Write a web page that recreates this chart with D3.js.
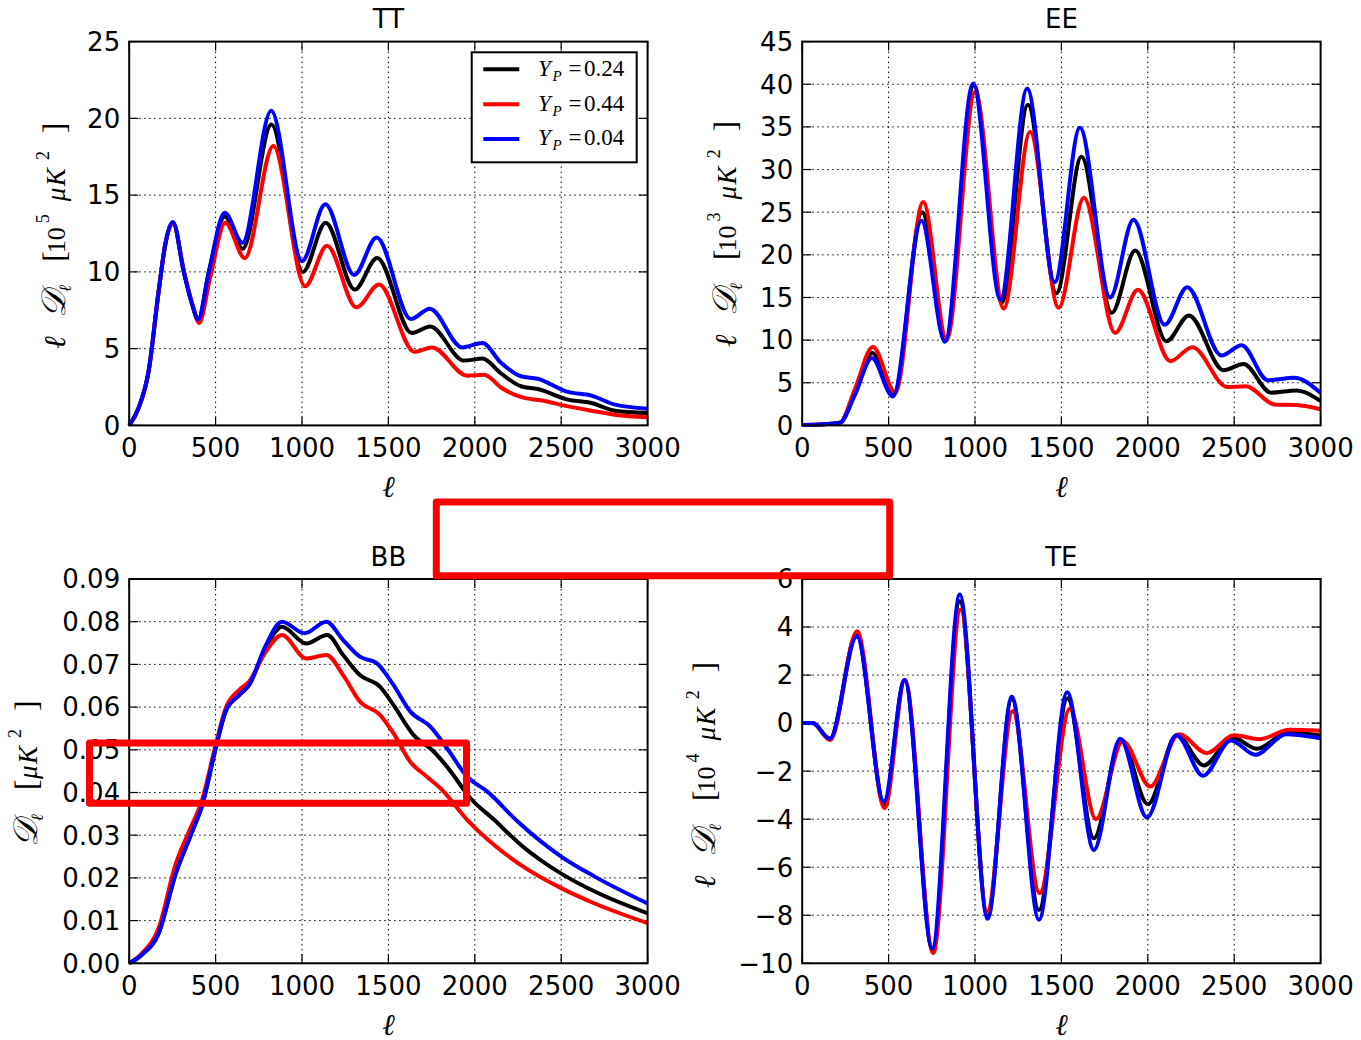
<!DOCTYPE html>
<html>
<head>
<meta charset="utf-8">
<script src="https://cdn.jsdelivr.net/npm/d3@7/dist/d3.min.js"></script>
<style>
  body { margin: 0; background: #fff; }
  text { fill: #000; }
</style>
</head>
<body>
<div id="plot"></div>
<script>
// values: [ell, value]
var ttK = [[0,0],[53,1.1],[112,3.5],[170,8.7],[209,11.8],[253,13.2],[316,10.0],[364,7.9],[399,6.9],[461,10.0],[553,13.6],[657,11.5],[823,19.6],[1005,10.0],[1137,13.2],[1305,8.85],[1435,10.9],[1635,6.02],[1742,6.45],[1937,4.22],[2044,4.35],[2150,3.4],[2267,2.55],[2364,2.37],[2539,1.68],[2675,1.46],[2811,0.96],[3000,0.81]];
var ttR = [[0,0],[53,1.1],[112,3.5],[170,8.7],[209,11.8],[253,13.2],[318,10.0],[368,7.8],[405,6.67],[468,9.6],[556,13.2],[669,10.9],[834,18.2],[1018,9.06],[1145,11.7],[1315,7.69],[1446,9.17],[1650,4.8],[1752,5.08],[1956,3.24],[2053,3.3],[2160,2.4],[2286,1.79],[2380,1.64],[2539,1.24],[2675,0.96],[2811,0.70],[3000,0.53]];
var ttB = [[0,0],[53,1.1],[112,3.5],[170,8.7],[209,11.8],[253,13.25],[316,10.0],[364,7.9],[399,6.9],[461,10.0],[553,13.85],[655,11.9],[822,20.5],[1000,10.7],[1135,14.4],[1302,9.8],[1432,12.24],[1630,6.93],[1739,7.6],[1927,5.08],[2044,5.37],[2150,4.1],[2267,3.2],[2364,3.04],[2539,2.18],[2675,1.94],[2811,1.35],[3000,1.09]];

var eeK = [[0,0.05],[100,0.1],[218,0.3],[306,4.0],[406,8.5],[530,3.6],[694,25.0],[830,9.9],[994,39.9],[1155,14.4],[1306,37.6],[1471,15.5],[1616,31.5],[1791,13.2],[1927,20.5],[2108,9.87],[2238,12.9],[2438,6.48],[2554,7.2],[2714,3.83],[2859,4.1],[3000,2.85]];
var eeR = [[0,0.05],[100,0.1],[218,0.3],[306,4.3],[409,9.2],[539,3.9],[700,26.2],[836,10.07],[1001,39.1],[1166,13.7],[1319,34.4],[1484,13.8],[1630,26.7],[1811,10.85],[1943,15.9],[2131,7.53],[2257,9.17],[2461,4.49],[2568,4.6],[2733,2.46],[2860,2.4],[3000,1.9]];
var eeB = [[0,0.05],[100,0.1],[218,0.3],[306,3.6],[403,7.9],[525,3.4],[690,24.0],[826,9.8],[989,40.1],[1147,14.75],[1302,39.5],[1461,16.8],[1607,34.9],[1782,15.0],[1917,24.1],[2098,11.8],[2228,16.2],[2426,8.2],[2543,9.4],[2694,5.3],[2846,5.58],[3000,3.8]];

var bbK = [[0,0],[73,0.002],[170,0.007],[267,0.0207],[364,0.0308],[422,0.037],[500,0.0503],[558,0.059],[636,0.0628],[694,0.0652],[791,0.074],[884,0.0788],[1024,0.0749],[1146,0.0769],[1238,0.0722],[1335,0.0675],[1451,0.0648],[1529,0.0605],[1645,0.0535],[1762,0.0496],[1840,0.046],[1976,0.0386],[2112,0.0336],[2267,0.0277],[2500,0.021],[2694,0.0168],[3000,0.0117]];
var bbR = [[0,0],[73,0.0023],[170,0.0082],[267,0.023],[345,0.0308],[422,0.0383],[500,0.0511],[558,0.0597],[636,0.064],[694,0.066],[791,0.073],[884,0.0769],[1024,0.0714],[1141,0.0722],[1238,0.0675],[1335,0.0613],[1451,0.0582],[1529,0.0539],[1626,0.0472],[1723,0.0437],[1801,0.041],[1956,0.0336],[2112,0.0277],[2267,0.023],[2500,0.0176],[2694,0.014],[3000,0.0094]];
var bbB = [[0,0],[73,0.002],[170,0.007],[267,0.0207],[364,0.0308],[422,0.037],[500,0.0503],[558,0.059],[636,0.0628],[694,0.0652],[791,0.0745],[884,0.080],[1015,0.0773],[1141,0.080],[1238,0.0757],[1335,0.0718],[1432,0.0703],[1529,0.0652],[1626,0.059],[1743,0.0554],[1840,0.0503],[1956,0.0437],[2073,0.0402],[2248,0.0332],[2500,0.025],[2694,0.0203],[3000,0.014]];

var teK = [[0,0],[60,0],[160,-0.65],[316,3.7],[475,-3.4],[593,1.8],[755,-9.45],[912,5.07],[1073,-8.05],[1213,1.0],[1370,-7.78],[1535,1.04],[1688,-4.79],[1845,-0.68],[2000,-3.38],[2168,-0.5],[2325,-1.76],[2490,-0.6],[2632,-1.07],[2810,-0.39],[3000,-0.51]];
var teR = [[0,0],[60,0],[162,-0.7],[318,3.82],[477,-3.54],[595,1.8],[758,-9.58],[917,4.72],[1070,-7.85],[1218,0.5],[1374,-7.08],[1549,0.6],[1700,-4.0],[1855,-0.75],[2015,-2.64],[2180,-0.46],[2341,-1.25],[2500,-0.51],[2646,-0.67],[2820,-0.28],[3000,-0.32]];
var teB = [[0,0],[60,0],[160,-0.65],[316,3.61],[473,-3.26],[593,1.8],[752,-9.38],[912,5.35],[1073,-8.15],[1213,1.11],[1370,-8.19],[1533,1.29],[1688,-5.28],[1840,-0.65],[1995,-3.93],[2166,-0.51],[2320,-2.19],[2481,-0.72],[2622,-1.32],[2801,-0.46],[3000,-0.63]];

var legendValues = ["0.24", "0.44", "0.04"];
var colors = ["#000000", "#ff0000", "#0000ff"];
var xTicks = [0, 500, 1000, 1500, 2000, 2500, 3000];
var ttTicks = [0, 5, 10, 15, 20, 25];
var eeTicks = [0, 5, 10, 15, 20, 25, 30, 35, 40, 45];
var bbTicks = [0, 0.01, 0.02, 0.03, 0.04, 0.05, 0.06, 0.07, 0.08, 0.09];
var teTicks = [-10, -8, -6, -4, -2, 0, 2, 4, 6];

var W = 1361, H = 1040;
var col = [[129.2, 647.6], [802.2, 1320.6]];
var row = [[41.6, 425.4], [579, 963.3]];
var mathFont = "'Liberation Serif', 'DejaVu Serif', serif";
var ell = "\u2113", calD = "\ud835\udc9f";

// y label pieces: text, offset along the label, italic, size, shift off baseline
function scaledLabel(exp) {
  return [
    [ell, -2, 1, 30, 0], [calD, 29, 1, 34, 0], [ell, 54.7, 1, 17, 6],
    ["[", 85, 0, 32, 0], ["10", 93.4, 0, 26, 0], [exp, 123.4, 0, 18, -16],
    ["\u03bc", 145.5, 1, 27, 0], ["K", 160.5, 1, 27, 0], ["2", 186.7, 0, 18, -16],
    ["]", 213.4, 0, 32, 0]
  ];
}
var bbLabel = [
  [calD, -1, 1, 34, 0], [ell, 24.7, 1, 17, 6], ["[", 56, 0, 32, 0],
  ["\u03bc", 67, 1, 27, 0], ["K", 82, 1, 27, 0], ["2", 108, 0, 18, -16], ["]", 135, 0, 32, 0]
];

var panels = [
  { title: "TT", c: 0, r: 0, dom: [0, 25], ticks: ttTicks, fmt: d3.format("d"), series: [ttK, ttR, ttB], label: scaledLabel("5"), lab: [65, 346.7], legend: true },
  { title: "EE", c: 1, r: 0, dom: [0, 45], ticks: eeTicks, fmt: d3.format("d"), series: [eeK, eeR, eeB], label: scaledLabel("3"), lab: [736, 345] },
  { title: "BB", c: 0, r: 1, dom: [0, 0.09], ticks: bbTicks, fmt: d3.format(".2f"), series: [bbK, bbR, bbB], label: bbLabel, lab: [36.5, 846] },
  { title: "TE", c: 1, r: 1, dom: [-10, 6], ticks: teTicks, fmt: function (d) { return d < 0 ? "\u2212" + (-d) : "" + d; }, series: [teK, teR, teB], label: scaledLabel("4"), lab: [715, 886] }
];

var svg = d3.select("#plot").append("svg")
  .attr("width", W).attr("height", H)
  .style("font-family", "'DejaVu Sans', sans-serif");

svg.append("rect").attr("width", W).attr("height", H).attr("fill", "#fff");

panels.forEach(function (p) {
  var x0 = col[p.c][0], x1 = col[p.c][1], y0 = row[p.r][0], y1 = row[p.r][1];
  var x = d3.scaleLinear().domain([0, 3000]).range([x0, x1]);
  var y = d3.scaleLinear().domain(p.dom).range([y1, y0]);
  var g = svg.append("g");

  // dotted grid
  g.selectAll(".gx").data(xTicks.slice(1, -1)).join("line")
    .attr("x1", d => x(d)).attr("x2", d => x(d)).attr("y1", y0).attr("y2", y1)
    .attr("stroke", "#000").attr("stroke-width", 1).attr("stroke-dasharray", "1.5,3.5");
  g.selectAll(".gy").data(p.ticks.slice(1, -1)).join("line")
    .attr("y1", d => y(d)).attr("y2", d => y(d)).attr("x1", x0).attr("x2", x1)
    .attr("stroke", "#000").attr("stroke-width", 1).attr("stroke-dasharray", "1.5,3.5");

  // inward ticks on all four sides
  var tl = 9;
  xTicks.forEach(function (d) {
    g.append("line").attr("x1", x(d)).attr("x2", x(d)).attr("y1", y1).attr("y2", y1 - tl).attr("stroke", "#000").attr("stroke-width", 1.2);
    g.append("line").attr("x1", x(d)).attr("x2", x(d)).attr("y1", y0).attr("y2", y0 + tl).attr("stroke", "#000").attr("stroke-width", 1.2);
  });
  p.ticks.forEach(function (d) {
    g.append("line").attr("y1", y(d)).attr("y2", y(d)).attr("x1", x0).attr("x2", x0 + tl).attr("stroke", "#000").attr("stroke-width", 1.2);
    g.append("line").attr("y1", y(d)).attr("y2", y(d)).attr("x1", x1).attr("x2", x1 - tl).attr("stroke", "#000").attr("stroke-width", 1.2);
  });

  // curves: black, red, blue (blue on top)
  var line = d3.line().x(d => x(d[0])).y(d => y(d[1])).curve(d3.curveMonotoneX);
  p.series.forEach(function (s, i) {
    g.append("path").datum(s).attr("d", line)
      .attr("fill", "none").attr("stroke", colors[i]).attr("stroke-width", 4)
      .attr("stroke-linejoin", "round");
  });

  // frame
  g.append("rect").attr("x", x0).attr("y", y0).attr("width", x1 - x0).attr("height", y1 - y0)
    .attr("fill", "none").attr("stroke", "#000").attr("stroke-width", 2);

  // tick labels
  g.selectAll(".xl").data(xTicks).join("text")
    .attr("x", d => x(d)).attr("y", y1 + 31.5).attr("text-anchor", "middle")
    .style("font-size", "26px").text(d => d);
  g.selectAll(".yl").data(p.ticks).join("text")
    .attr("x", x0 - 9).attr("y", d => y(d)).attr("dy", "0.36em").attr("text-anchor", "end")
    .style("font-size", "26px").text(p.fmt);

  // title
  g.append("text").attr("x", (x0 + x1) / 2).attr("y", y0 - 13.5).attr("text-anchor", "middle")
    .style("font-size", "26px").text(p.title);

  // x label
  g.append("text").attr("x", (x0 + x1) / 2).attr("y", y1 + 71.5).attr("text-anchor", "middle")
    .style("font-family", mathFont).style("font-size", "30px").style("font-style", "italic").text(ell);

  // y label, rotated; each piece placed along the reading direction
  var t = g.append("text")
    .attr("transform", "translate(" + p.lab[0] + "," + p.lab[1] + ") rotate(-90)")
    .style("font-family", mathFont);
  p.label.forEach(function (q) {
    t.append("tspan").attr("x", q[1]).attr("y", q[4])
      .style("font-style", q[2] ? "italic" : "normal")
      .style("font-size", q[3] + "px").text(q[0]);
  });

  // legend
  if (p.legend) {
    var lg = g.append("g").style("font-family", mathFont);
    lg.append("rect").attr("x", 471.7).attr("y", 52.3).attr("width", 165).attr("height", 110)
      .attr("fill", "#fff").attr("stroke", "#000").attr("stroke-width", 2);
    legendValues.forEach(function (v, i) {
      var ly = 69.3 + i * 34.85;
      lg.append("line").attr("x1", 483.3).attr("x2", 519.3).attr("y1", ly).attr("y2", ly)
        .attr("stroke", colors[i]).attr("stroke-width", 4);
      var lt = lg.append("text").attr("y", ly + 6.4).style("font-size", "23px");
      lt.append("tspan").attr("x", 538).style("font-style", "italic").text("Y");
      lt.append("tspan").attr("x", 552.5).attr("dy", 5).style("font-size", "15px").style("font-style", "italic").text("P");
      lt.append("tspan").attr("x", 568.5).attr("dy", -5).text("=");
      lt.append("tspan").attr("x", 584).text(v);
    });
  }
});

// red highlight boxes drawn on top
var boxes = [[436.3, 501.9, 889.7, 575.7], [89.5, 743, 466.5, 803.3]];
svg.selectAll(".box").data(boxes).join("rect")
  .attr("x", d => d[0]).attr("y", d => d[1])
  .attr("width", d => d[2] - d[0]).attr("height", d => d[3] - d[1])
  .attr("fill", "none").attr("stroke", "#ff0000").attr("stroke-width", 7)
  .attr("stroke-linejoin", "round");
</script>
</body>
</html>
